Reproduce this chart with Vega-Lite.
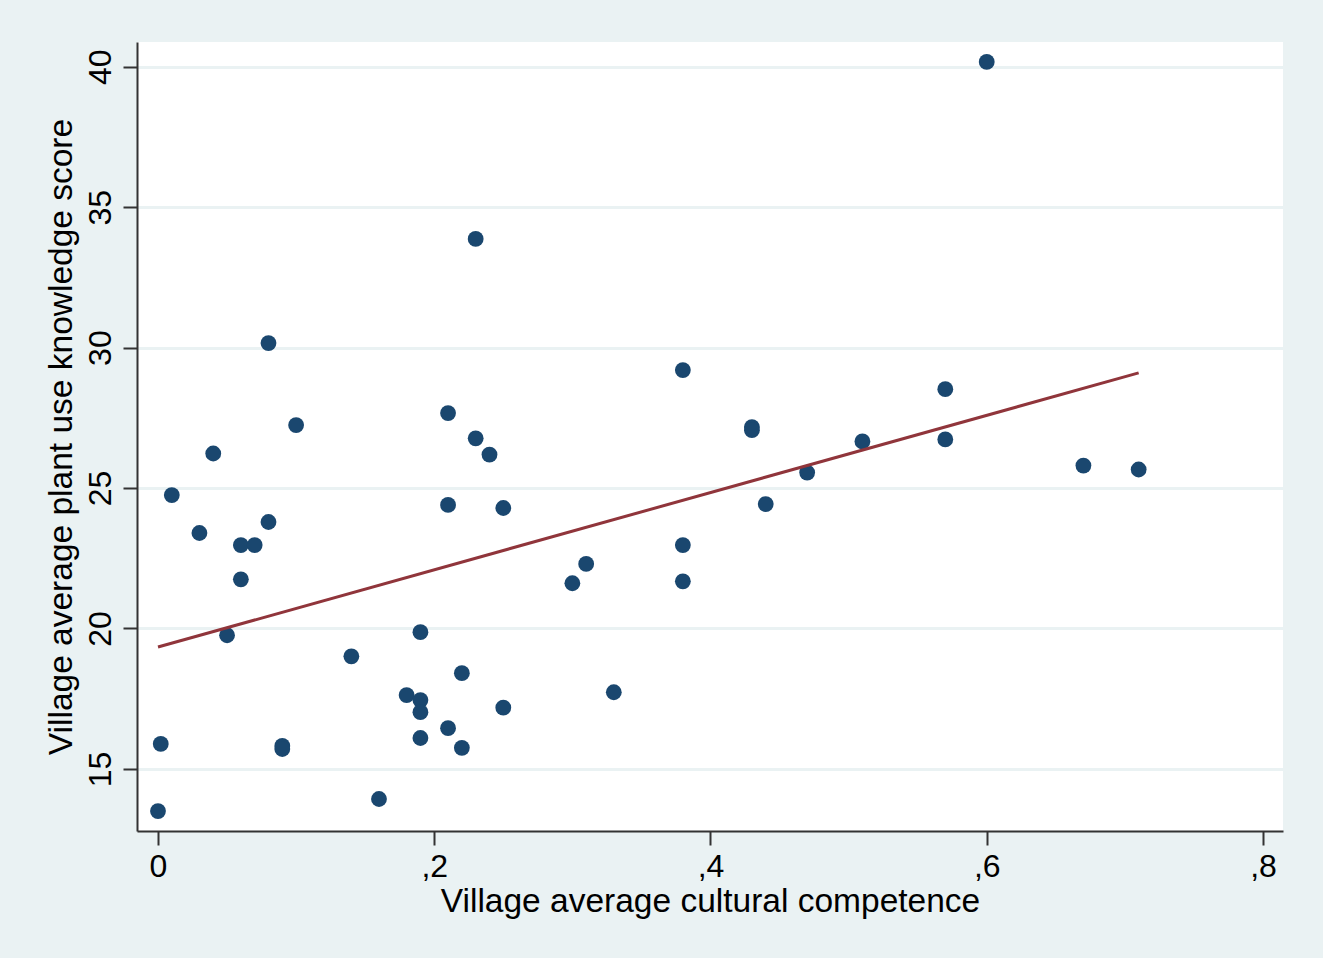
{
  "$schema": "https://vega.github.io/schema/vega-lite/v6.json",
  "width": 1146,
  "height": 789,
  "autosize": {"type": "none"},
  "padding": {"left": 137, "top": 42, "right": 40, "bottom": 127},
  "background": "#EAF2F3",
  "config": {
    "view": {"fill": "white", "stroke": null},
    "font": "Liberation Sans"
  },
  "layer": [
    {
      "data": {
        "values": [
          {"competence": 0.60, "knowledge": 40.17},
          {"competence": 0.23, "knowledge": 33.87},
          {"competence": 0.08, "knowledge": 30.16},
          {"competence": 0.38, "knowledge": 29.20},
          {"competence": 0.57, "knowledge": 28.52},
          {"competence": 0.21, "knowledge": 27.67},
          {"competence": 0.10, "knowledge": 27.24},
          {"competence": 0.43, "knowledge": 27.17},
          {"competence": 0.43, "knowledge": 27.06},
          {"competence": 0.23, "knowledge": 26.77},
          {"competence": 0.51, "knowledge": 26.66},
          {"competence": 0.57, "knowledge": 26.73},
          {"competence": 0.04, "knowledge": 26.23},
          {"competence": 0.24, "knowledge": 26.19},
          {"competence": 0.67, "knowledge": 25.80},
          {"competence": 0.71, "knowledge": 25.66},
          {"competence": 0.47, "knowledge": 25.55},
          {"competence": 0.01, "knowledge": 24.75},
          {"competence": 0.44, "knowledge": 24.43},
          {"competence": 0.21, "knowledge": 24.40},
          {"competence": 0.25, "knowledge": 24.29},
          {"competence": 0.08, "knowledge": 23.79},
          {"competence": 0.03, "knowledge": 23.40},
          {"competence": 0.06, "knowledge": 22.97},
          {"competence": 0.07, "knowledge": 22.97},
          {"competence": 0.38, "knowledge": 22.97},
          {"competence": 0.31, "knowledge": 22.30},
          {"competence": 0.06, "knowledge": 21.75},
          {"competence": 0.38, "knowledge": 21.68},
          {"competence": 0.30, "knowledge": 21.61},
          {"competence": 0.05, "knowledge": 19.76},
          {"competence": 0.19, "knowledge": 19.87},
          {"competence": 0.14, "knowledge": 19.01},
          {"competence": 0.22, "knowledge": 18.41},
          {"competence": 0.33, "knowledge": 17.73},
          {"competence": 0.18, "knowledge": 17.63},
          {"competence": 0.19, "knowledge": 17.45},
          {"competence": 0.25, "knowledge": 17.18},
          {"competence": 0.19, "knowledge": 17.02},
          {"competence": 0.21, "knowledge": 16.45},
          {"competence": 0.19, "knowledge": 16.10},
          {"competence": 0.002, "knowledge": 15.89},
          {"competence": 0.09, "knowledge": 15.82},
          {"competence": 0.09, "knowledge": 15.71},
          {"competence": 0.22, "knowledge": 15.75},
          {"competence": 0.16, "knowledge": 13.93},
          {"competence": 0.0, "knowledge": 13.50}
        ]
      },
      "mark": {"type": "circle", "size": 250, "opacity": 1, "color": "#1A476F"},
      "encoding": {
        "x": {
          "field": "competence",
          "type": "quantitative",
          "scale": {"domain": [-0.0152, 0.8145], "nice": false, "zero": false},
          "axis": {
            "values": [0, 0.2, 0.4, 0.6, 0.8],
            "labelExpr": "datum.value == 0 ? '0' : replace(format(datum.value, '.1f'), '0.', ',')",
            "grid": false,
            "domainColor": "#333333",
            "domainWidth": 2,
            "tickColor": "#333333",
            "tickWidth": 2,
            "tickSize": 14,
            "labelFontSize": 32,
            "labelColor": "black",
            "labelPadding": 6,
            "labelFlush": false,
            "labelOverlap": false,
            "title": "Village average cultural competence",
            "titleFontSize": 33.5,
            "titleFontWeight": "normal",
            "titleColor": "black",
            "titlePadding": 3
          }
        },
        "y": {
          "field": "knowledge",
          "type": "quantitative",
          "scale": {"domain": [12.79, 40.88], "nice": false, "zero": false},
          "axis": {
            "values": [15, 20, 25, 30, 35, 40],
            "grid": true,
            "gridColor": "#EAF2F3",
            "gridWidth": 3,
            "domainColor": "#333333",
            "domainWidth": 2,
            "tickColor": "#333333",
            "tickWidth": 2,
            "tickSize": 14,
            "labelFontSize": 32,
            "labelColor": "black",
            "labelAngle": -90,
            "labelAlign": "center",
            "labelBaseline": "alphabetic",
            "labelPadding": 13,
            "labelFlush": false,
            "labelOverlap": false,
            "title": "Village average plant use knowledge score",
            "titleFontSize": 33.5,
            "titleFontWeight": "normal",
            "titleColor": "black",
            "titlePadding": 6
          }
        }
      }
    },
    {
      "data": {
        "values": [
          {"competence": 0.0, "knowledge": 19.34},
          {"competence": 0.71, "knowledge": 29.10}
        ]
      },
      "mark": {"type": "line", "color": "#90353B", "strokeWidth": 3},
      "encoding": {
        "x": {"field": "competence", "type": "quantitative"},
        "y": {"field": "knowledge", "type": "quantitative"}
      }
    }
  ]
}
